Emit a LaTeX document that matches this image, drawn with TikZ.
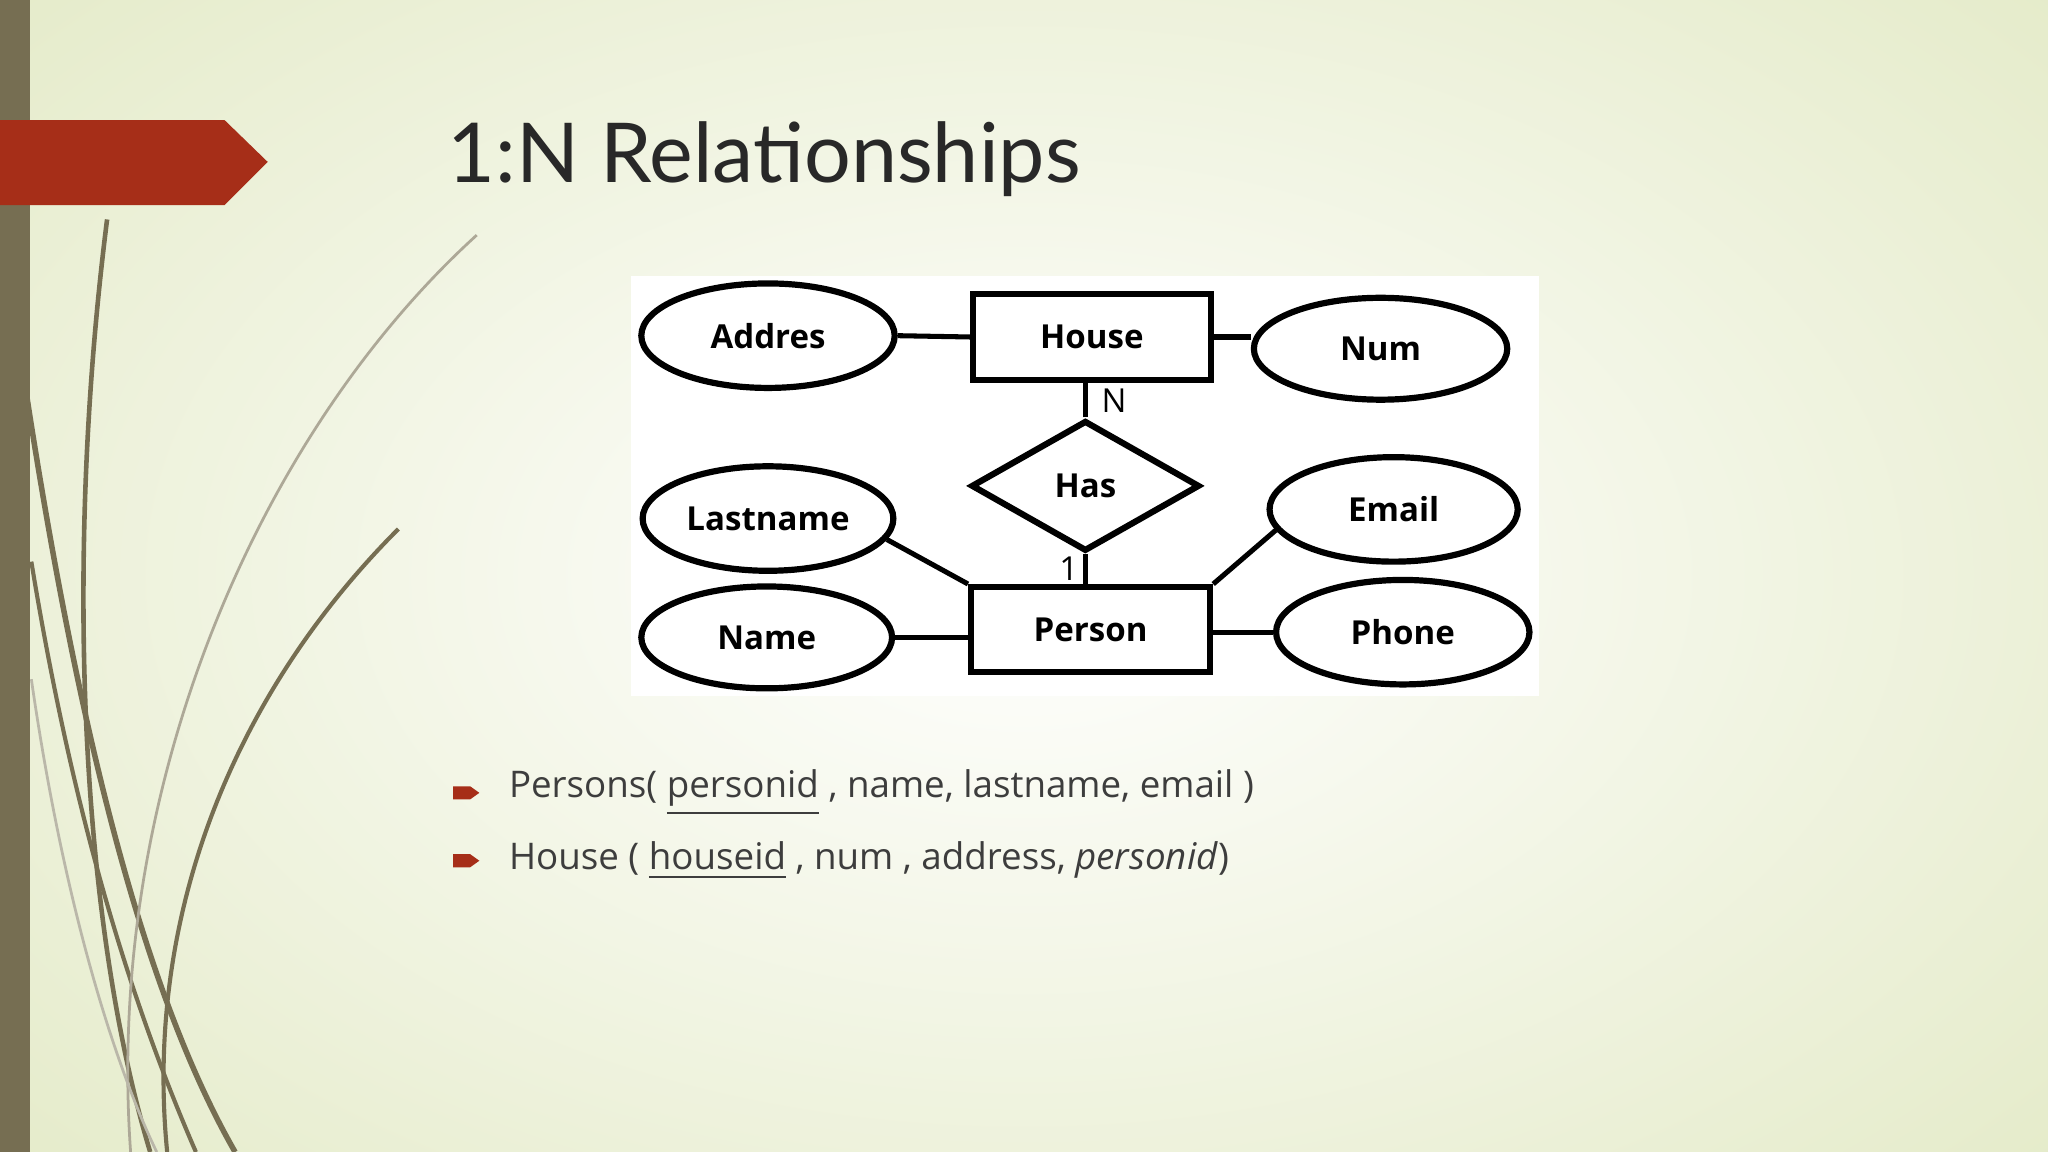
\documentclass[tikz,border=0pt]{standalone}
\usepackage{fontspec}
\setmainfont{Open Sans}
\newfontfamily\titlefont{Lato}
\usetikzlibrary{shapes.geometric}
\definecolor{olive}{RGB}{118,110,82}
\definecolor{rust}{RGB}{166,46,24}
\definecolor{bgout}{RGB}{226,233,196}
\definecolor{ttl}{RGB}{40,40,40}
\tikzset{
  ent/.style={draw=black,line width=1.35pt,fill=white,inner sep=0pt},
  attr/.style={draw=black,line width=1.35pt,ellipse,fill=white,inner sep=0pt,font=\bfseries\fontsize{7.2}{8}\selectfont},
  rel/.style={draw=black,line width=1.35pt,diamond,aspect=1.75,fill=white,inner sep=0pt,font=\bfseries\fontsize{7.2}{8}\selectfont},
  con/.style={line width=1.1pt,black},
  curve/.style={olive,line width=0.5pt},
  bodytxt/.style={anchor=west,font=\fontsize{8.0}{10}\selectfont,text=ttl!90!white,inner sep=0pt}
}
\begin{document}
\begin{tikzpicture}[x=0.1mm,y=-0.1mm]
\useasboundingbox (0,0) rectangle (1568,882);
\shade[inner color=white,outer color=bgout] (-400,-300) rectangle (1968,1182);
\path[clip] (0,0) rectangle (1568,882);
% curves
\draw[curve,line width=1.2pt] (20,300) .. controls (60,560) and (110,760) .. (180,882);
\draw[curve,line width=1pt] (82,168) .. controls (50,420) and (60,700) .. (115,882);
\draw[curve,line width=0.9pt] (24,430) .. controls (60,650) and (110,790) .. (150,882);
\draw[curve,olive!60,line width=0.6pt] (365,180) .. controls (200,330) and (80,600) .. (100,882);
\draw[curve,line width=0.9pt] (305,405) .. controls (180,530) and (110,700) .. (128,882);
\draw[curve,olive!50,line width=0.6pt] (24,520) .. controls (50,700) and (90,820) .. (120,882);
\fill[olive] (0,0) rectangle (23,882);
\fill[rust] (0,92) -- (172,92) -- (205,124) -- (172,157) -- (0,157) -- cycle;
\node[anchor=west,inner sep=0pt,text=ttl,font=\titlefont\fontsize{18}{22}\selectfont] (title) at (342,122) {1:N Relationships};
% diagram
\fill[white] (483,211) rectangle (1178,533);
\node[attr,minimum width=194*0.1mm,minimum height=80*0.1mm] (addr) at (588,257) {Addres};
\node[ent,minimum width=182*0.1mm,minimum height=66*0.1mm,font=\bfseries\fontsize{7.2}{8}\selectfont] (house) at (836,258) {House};
\node[attr,minimum width=194*0.1mm,minimum height=78*0.1mm] (num) at (1057,267) {Num};
\node[rel,minimum width=175*0.1mm,minimum height=100*0.1mm] (has) at (831,372) {Has};
\node[attr,minimum width=192*0.1mm,minimum height=80*0.1mm] (last) at (588,397) {Lastname};
\node[attr,minimum width=190*0.1mm,minimum height=80*0.1mm] (email) at (1067,390) {Email};
\node[attr,minimum width=192*0.1mm,minimum height=78*0.1mm] (name) at (587,488) {Name};
\node[ent,minimum width=183*0.1mm,minimum height=65*0.1mm,font=\bfseries\fontsize{7.2}{8}\selectfont] (person) at (835,482) {Person};
\node[attr,minimum width=194*0.1mm,minimum height=80*0.1mm] (phone) at (1074,484) {Phone};
\draw[con] (addr.east) -- (house.west);
\draw[con] (house.east) -- (num.west |- house.east);
\draw[con] (has.north) -- (has.north |- house.south) node[midway,right,inner sep=3pt,font=\fontsize{7.2}{8}\selectfont] {N};
\draw[con] (has.south) -- (has.south |- person.north) node[midway,left,inner sep=1pt,font=\fontsize{7.2}{8}\selectfont] {1};
\draw[con] (last.-10) -- (person.north west);
\draw[con] (email.190) -- (person.north east);
\draw[con] (name.east) -- (name.east -| person.west);
\draw[con] (phone.west) -- (phone.west -| person.east);
% bullets
\foreach \y in {607,659}{
  \fill[rust] (347,\y-5) -- (360,\y-5) -- (367,\y) -- (360,\y+5) -- (347,\y+5) -- cycle;
}
\node[bodytxt] (l1) at (389,607) {Persons( \underline{personid} , name, lastname, email )};
\node[bodytxt] (l2) at (389,659) {House ( \underline{houseid} , num , address, \textit{personid})};
\end{tikzpicture}
\end{document}
